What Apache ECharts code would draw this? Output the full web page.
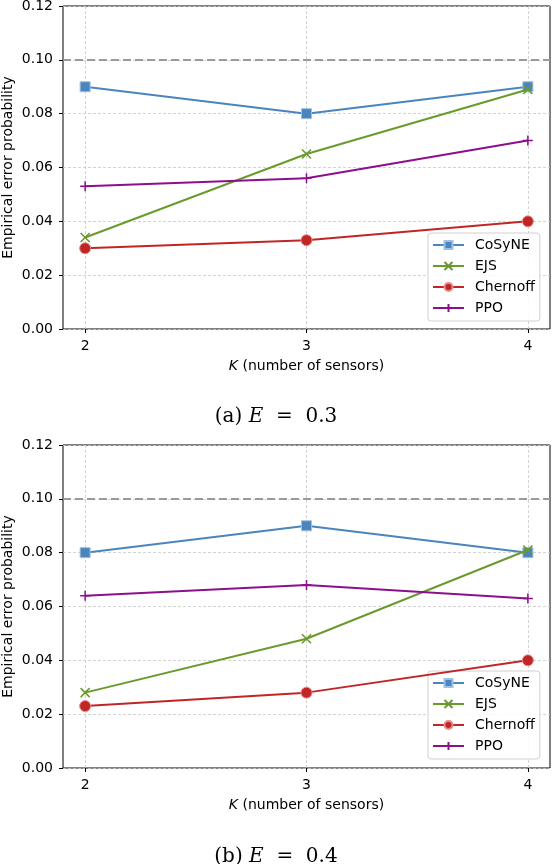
<!DOCTYPE html>
<html>
<head>
<meta charset="utf-8">
<script src="https://cdn.jsdelivr.net/npm/echarts@6/dist/echarts.min.js"></script>
<style>
  html, body { margin: 0; padding: 0; background: #fff; }
  #chart { width: 552px; height: 864px; }
</style>
</head>
<body>
<div id="chart"></div>
<script>
// number of sensors
var sensors = [2, 3, 4];
var threshold = 0.10;

// (a) E = 0.3
var cosyneA = [0.090, 0.080, 0.090];
var ejsA = [0.034, 0.065, 0.089];
var chernoffA = [0.030, 0.033, 0.040];
var ppoA = [0.053, 0.056, 0.070];

// (b) E = 0.4
var cosyneB = [0.080, 0.090, 0.080];
var ejsB = [0.028, 0.048, 0.081];
var chernoffB = [0.023, 0.028, 0.040];
var ppoB = [0.064, 0.068, 0.063];

var names = ['CoSyNE', 'EJS', 'Chernoff', 'PPO'];
var colors = ['#4a85bd', '#6b9a2c', '#c02626', '#8c0f8c'];

var font = 'DejaVu Sans';
var fs = 14;
var chart = echarts.init(document.getElementById('chart'));

function pairs(vals) {
    return sensors.map(function (x, i) { return [x, vals[i]]; });
}

function makeSeries(idx, sets) {
    var symbols = [
        { symbol: 'rect', symbolSize: 10, itemStyle: { color: colors[0], borderColor: '#9fc0e2', borderWidth: 1 } },
        { symbol: 'path://M0,0L10,10M10,0L0,10', symbolSize: 9, itemStyle: { color: 'none', borderColor: colors[1], borderWidth: 1.6 } },
        { symbol: 'circle', symbolSize: 11, itemStyle: { color: colors[2], borderColor: '#e68a8a', borderWidth: 1 } },
        { symbol: 'path://M5,0L5,10M0,5L10,5', symbolSize: 10, itemStyle: { color: 'none', borderColor: colors[3], borderWidth: 1.5 } }
    ];
    return sets.map(function (vals, k) {
        var s = {
            name: names[k],
            type: 'line',
            xAxisIndex: idx,
            yAxisIndex: idx,
            data: pairs(vals),
            symbol: symbols[k].symbol,
            symbolSize: symbols[k].symbolSize,
            showAllSymbol: true,
            itemStyle: symbols[k].itemStyle,
            lineStyle: { color: colors[k], width: 2 },
            z: 3 + k
        };
        if (k === 0) {
            s.markLine = {
                silent: true,
                symbol: 'none',
                label: { show: false },
                lineStyle: { color: '#9a9a9a', type: [8, 4], width: 2 },
                data: [{ yAxis: threshold }]
            };
        }
        return s;
    });
}

function xAxis(idx) {
    return {
        type: 'value', gridIndex: idx, min: 1.9, max: 4.1,
        name: '{i|K} (number of sensors)',
        nameLocation: 'middle', nameGap: 30, nameMoveOverlap: false,
        nameTextStyle: {
            fontFamily: font, fontSize: fs, color: '#000',
            rich: { i: { fontFamily: font, fontStyle: 'italic', fontSize: fs, color: '#000' } }
        },
        axisLine: { show: false },
        axisTick: { show: true, length: 4, customValues: sensors, lineStyle: { color: '#000' } },
        axisLabel: { customValues: sensors, fontFamily: font, fontSize: fs, color: '#000', margin: 10 },
        splitLine: { show: true, lineStyle: { color: '#c8c8c8', type: [3, 2], width: 0.8 } }
    };
}

function yAxis(idx) {
    return {
        type: 'value', gridIndex: idx, min: 0, max: 0.12, interval: 0.02,
        name: 'Empirical error probability',
        nameLocation: 'middle', nameGap: 48, nameMoveOverlap: false,
        nameTextStyle: { fontFamily: font, fontSize: fs, color: '#000' },
        axisLine: { show: false },
        axisTick: { show: true, length: 4, lineStyle: { color: '#000' } },
        axisLabel: { fontFamily: font, fontSize: fs, color: '#000', margin: 10,
            formatter: function (v) { return v.toFixed(2); } },
        splitLine: { show: true, lineStyle: { color: '#c8c8c8', type: [3, 2], width: 0.8 } }
    };
}

function legend(top) {
    return {
        data: names, orient: 'vertical', left: 428, top: top,
        itemWidth: 31, itemHeight: 10, itemGap: 7,
        padding: [5, 5, 6, 4],
        backgroundColor: 'rgba(255,255,255,0.85)',
        borderColor: '#d0d0d0', borderWidth: 1, borderRadius: 3,
        textStyle: { fontFamily: font, fontSize: fs, color: '#000', padding: [0, 0, 0, 6] }
    };
}

function caption(label, e, top) {
    return {
        text: label + ' {i|E}  =  ' + e,
        left: 'center', top: top,
        textStyle: {
            fontFamily: 'DejaVu Serif', fontSize: 20, fontWeight: 'normal', color: '#000',
            rich: { i: { fontFamily: 'DejaVu Serif', fontStyle: 'italic', fontSize: 20, color: '#000' } }
        }
    };
}

chart.setOption({
    backgroundColor: '#fff',
    animation: false,
    title: [caption('(a)', '0.3', 402), caption('(b)', '0.4', 842)],
    legend: [legend(233), legend(671)],
    grid: [
        { left: 63, top: 6, width: 487, height: 323, outerBoundsMode: 'none',
          show: true, borderColor: '#000', borderWidth: 1, backgroundColor: 'transparent' },
        { left: 63, top: 445, width: 487, height: 323, outerBoundsMode: 'none',
          show: true, borderColor: '#000', borderWidth: 1, backgroundColor: 'transparent' }
    ],
    xAxis: [xAxis(0), xAxis(1)],
    yAxis: [yAxis(0), yAxis(1)],
    series: makeSeries(0, [cosyneA, ejsA, chernoffA, ppoA])
        .concat(makeSeries(1, [cosyneB, ejsB, chernoffB, ppoB]))
});
</script>
</body>
</html>
